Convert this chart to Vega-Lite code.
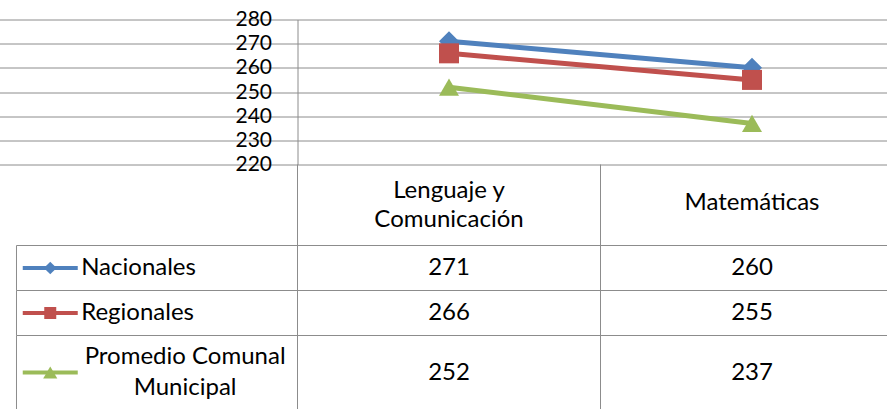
{
  "$schema": "https://vega.github.io/schema/vega-lite/v6.json",
  "autosize": {"type": "pad"},
  "padding": {"left": 14.5, "top": 8.5, "right": 0, "bottom": 0},
  "bounds": "flush",
  "spacing": 0,
  "config": {"view": {"stroke": null}, "font": "Lato", "text": {"font": "Lato", "fontSize": 24, "color": "#000000"}},
  "resolve": {"scale": {"x": "independent", "y": "independent", "color": "independent", "shape": "independent"}},
  "datasets": {
    "scores": [
      {"series": "Nacionales", "label": "Nacionales", "subject": "Lenguaje y Comunicación", "value": 271},
      {"series": "Nacionales", "label": "Nacionales", "subject": "Matemáticas", "value": 260},
      {"series": "Regionales", "label": "Regionales", "subject": "Lenguaje y Comunicación", "value": 266},
      {"series": "Regionales", "label": "Regionales", "subject": "Matemáticas", "value": 255},
      {"series": "Promedio Comunal Municipal", "label": "Promedio Comunal\nMunicipal", "subject": "Lenguaje y Comunicación", "value": 252},
      {"series": "Promedio Comunal Municipal", "label": "Promedio Comunal\nMunicipal", "subject": "Matemáticas", "value": 237}
    ],
    "subjects": [
      {"subject": "Lenguaje y Comunicación", "header": "Lenguaje y\nComunicación"},
      {"subject": "Matemáticas", "header": "Matemáticas"}
    ]
  },
  "vconcat": [
    {
      "width": 591, "height": 145,
      "data": {"name": "scores"},
      "encoding": {
        "x": {"field": "subject", "type": "nominal", "sort": null, "scale": {"type": "band", "domain": ["Serie", "Lenguaje y Comunicación", "Matemáticas"], "range": [-303, 606], "paddingInner": 0, "paddingOuter": 0}, "axis": null},
        "y": {"field": "value", "type": "quantitative", "scale": {"domain": [220, 280], "nice": false, "zero": false},
          "axis": {"values": [220, 230, 240, 250, 260, 270, 280], "title": null, "grid": true, "gridColor": "#8c8c8c", "gridWidth": 1, "ticks": false, "domain": true, "domainColor": "#8c8c8c", "domainWidth": 1, "labelFont": "Lato", "labelFontSize": 21, "labelColor": "#000000", "labelPadding": 26}},
        "color": {"field": "series", "type": "nominal", "scale": {"domain": ["Nacionales", "Regionales", "Promedio Comunal Municipal"], "range": ["#4F81BD", "#C0504D", "#9BBB59"]}, "legend": null}
      },
      "layer": [
        {"mark": {"type": "line", "strokeWidth": 5}},
        {"mark": {"type": "point", "filled": true, "opacity": 1, "size": 400},
          "encoding": {"shape": {"field": "series", "type": "nominal", "scale": {"domain": ["Nacionales", "Regionales", "Promedio Comunal Municipal"], "range": ["diamond", "square", "triangle-up"]}, "legend": null}}}
      ]
    },
    {
      "width": 591, "height": 81,
      "data": {"name": "subjects"},
      "layer": [
        {"mark": {"type": "rule", "color": "#8c8c8c", "strokeWidth": 1},
          "encoding": {"x": {"field": "subject", "type": "nominal", "bandPosition": 0, "scale": {"type": "band", "domain": ["Serie", "Lenguaje y Comunicación", "Matemáticas"], "range": [-303, 606], "paddingInner": 0, "paddingOuter": 0}, "axis": null}}},
        {"transform": [{"filter": "datum.subject == 'Lenguaje y Comunicación'"}], "mark": {"type": "text", "fontSize": 24, "lineHeight": 29, "lineBreak": "\n", "baseline": "middle", "dy": -14.5, "color": "#000000"},
          "encoding": {"x": {"field": "subject", "type": "nominal", "scale": {"type": "band", "domain": ["Serie", "Lenguaje y Comunicación", "Matemáticas"], "range": [-303, 606], "paddingInner": 0, "paddingOuter": 0}, "axis": null}, "text": {"field": "header"}}},
        {"transform": [{"filter": "datum.subject == 'Matemáticas'"}], "mark": {"type": "text", "fontSize": 24, "baseline": "middle", "dy": -2, "color": "#000000"},
          "encoding": {"x": {"field": "subject", "type": "nominal", "scale": {"type": "band", "domain": ["Serie", "Lenguaje y Comunicación", "Matemáticas"], "range": [-303, 606], "paddingInner": 0, "paddingOuter": 0}, "axis": null}, "text": {"field": "header"}}}
      ]
    },
    {
      "width": 591, "height": 45,
      "data": {"name": "scores"},
      "transform": [{"filter": "datum.series == 'Nacionales'"}],
      "layer": [
        {"mark": {"type": "rule", "color": "#8c8c8c", "strokeWidth": 1},
          "encoding": {"x": {"field": "subject", "type": "nominal", "bandPosition": 0, "scale": {"type": "band", "domain": ["Serie", "Lenguaje y Comunicación", "Matemáticas"], "range": [-303, 606], "paddingInner": 0, "paddingOuter": 0}, "axis": null}}},
        {"transform": [{"filter": "datum.subject == 'Matemáticas'"}], "mark": {"type": "rule", "color": "#8c8c8c", "strokeWidth": 1},
          "encoding": {"x": {"datum": "Serie", "type": "nominal", "bandPosition": 0.0726, "scale": {"type": "band", "domain": ["Serie", "Lenguaje y Comunicación", "Matemáticas"], "range": [-303, 606], "paddingInner": 0, "paddingOuter": 0}, "axis": null}}},
        {"transform": [{"filter": "datum.subject == 'Matemáticas'"}], "mark": {"type": "rule", "color": "#8c8c8c", "strokeWidth": 1},
          "encoding": {"x": {"datum": "Serie", "type": "nominal", "bandPosition": 0.0726, "scale": {"type": "band", "domain": ["Serie", "Lenguaje y Comunicación", "Matemáticas"], "range": [-303, 606], "paddingInner": 0, "paddingOuter": 0}, "axis": null},
            "x2": {"datum": "Matemáticas", "bandPosition": 0.95},
            "y": {"datum": 2, "type": "quantitative", "scale": {"domain": [1, 2], "zero": false, "nice": false}, "axis": null}}},
        {"mark": {"type": "text", "fontSize": 24, "color": "#000000"},
          "encoding": {"x": {"field": "subject", "type": "nominal", "scale": {"type": "band", "domain": ["Serie", "Lenguaje y Comunicación", "Matemáticas"], "range": [-303, 606], "paddingInner": 0, "paddingOuter": 0}, "axis": null}, "text": {"field": "value"}}},
        {"transform": [{"filter": "datum.subject == 'Matemáticas'"}], "mark": {"type": "point", "shape": "stroke", "size": 3025, "strokeWidth": 4, "opacity": 1, "filled": false},
          "encoding": {"x": {"datum": "Serie", "type": "nominal", "bandPosition": 0.184, "scale": {"type": "band", "domain": ["Serie", "Lenguaje y Comunicación", "Matemáticas"], "range": [-303, 606], "paddingInner": 0, "paddingOuter": 0}, "axis": null},
            "color": {"field": "series", "type": "nominal", "scale": {"domain": ["Nacionales", "Regionales", "Promedio Comunal Municipal"], "range": ["#4F81BD", "#C0504D", "#9BBB59"]}, "legend": null}}},
        {"transform": [{"filter": "datum.subject == 'Matemáticas'"}], "mark": {"type": "point", "filled": true, "opacity": 1, "size": 160},
          "encoding": {"x": {"datum": "Serie", "type": "nominal", "bandPosition": 0.184, "scale": {"type": "band", "domain": ["Serie", "Lenguaje y Comunicación", "Matemáticas"], "range": [-303, 606], "paddingInner": 0, "paddingOuter": 0}, "axis": null},
            "color": {"field": "series", "type": "nominal", "scale": {"domain": ["Nacionales", "Regionales", "Promedio Comunal Municipal"], "range": ["#4F81BD", "#C0504D", "#9BBB59"]}, "legend": null},
            "shape": {"field": "series", "type": "nominal", "scale": {"domain": ["Nacionales", "Regionales", "Promedio Comunal Municipal"], "range": ["diamond", "square", "triangle-up"]}, "legend": null}}},
        {"transform": [{"filter": "datum.subject == 'Matemáticas'"}], "mark": {"type": "text", "fontSize": 24, "align": "left", "color": "#000000"},
          "encoding": {"x": {"datum": "Serie", "type": "nominal", "bandPosition": 0.286, "scale": {"type": "band", "domain": ["Serie", "Lenguaje y Comunicación", "Matemáticas"], "range": [-303, 606], "paddingInner": 0, "paddingOuter": 0}, "axis": null}, "text": {"field": "label"}}}
      ]
    },
    {
      "width": 591, "height": 45,
      "data": {"name": "scores"},
      "transform": [{"filter": "datum.series == 'Regionales'"}],
      "layer": [
        {"mark": {"type": "rule", "color": "#8c8c8c", "strokeWidth": 1},
          "encoding": {"x": {"field": "subject", "type": "nominal", "bandPosition": 0, "scale": {"type": "band", "domain": ["Serie", "Lenguaje y Comunicación", "Matemáticas"], "range": [-303, 606], "paddingInner": 0, "paddingOuter": 0}, "axis": null}}},
        {"transform": [{"filter": "datum.subject == 'Matemáticas'"}], "mark": {"type": "rule", "color": "#8c8c8c", "strokeWidth": 1},
          "encoding": {"x": {"datum": "Serie", "type": "nominal", "bandPosition": 0.0726, "scale": {"type": "band", "domain": ["Serie", "Lenguaje y Comunicación", "Matemáticas"], "range": [-303, 606], "paddingInner": 0, "paddingOuter": 0}, "axis": null}}},
        {"transform": [{"filter": "datum.subject == 'Matemáticas'"}], "mark": {"type": "rule", "color": "#8c8c8c", "strokeWidth": 1},
          "encoding": {"x": {"datum": "Serie", "type": "nominal", "bandPosition": 0.0726, "scale": {"type": "band", "domain": ["Serie", "Lenguaje y Comunicación", "Matemáticas"], "range": [-303, 606], "paddingInner": 0, "paddingOuter": 0}, "axis": null},
            "x2": {"datum": "Matemáticas", "bandPosition": 0.95},
            "y": {"datum": 2, "type": "quantitative", "scale": {"domain": [1, 2], "zero": false, "nice": false}, "axis": null}}},
        {"mark": {"type": "text", "fontSize": 24, "color": "#000000"},
          "encoding": {"x": {"field": "subject", "type": "nominal", "scale": {"type": "band", "domain": ["Serie", "Lenguaje y Comunicación", "Matemáticas"], "range": [-303, 606], "paddingInner": 0, "paddingOuter": 0}, "axis": null}, "text": {"field": "value"}}},
        {"transform": [{"filter": "datum.subject == 'Matemáticas'"}], "mark": {"type": "point", "shape": "stroke", "size": 3025, "strokeWidth": 4, "opacity": 1, "filled": false},
          "encoding": {"x": {"datum": "Serie", "type": "nominal", "bandPosition": 0.184, "scale": {"type": "band", "domain": ["Serie", "Lenguaje y Comunicación", "Matemáticas"], "range": [-303, 606], "paddingInner": 0, "paddingOuter": 0}, "axis": null},
            "color": {"field": "series", "type": "nominal", "scale": {"domain": ["Nacionales", "Regionales", "Promedio Comunal Municipal"], "range": ["#4F81BD", "#C0504D", "#9BBB59"]}, "legend": null}}},
        {"transform": [{"filter": "datum.subject == 'Matemáticas'"}], "mark": {"type": "point", "filled": true, "opacity": 1, "size": 144},
          "encoding": {"x": {"datum": "Serie", "type": "nominal", "bandPosition": 0.184, "scale": {"type": "band", "domain": ["Serie", "Lenguaje y Comunicación", "Matemáticas"], "range": [-303, 606], "paddingInner": 0, "paddingOuter": 0}, "axis": null},
            "color": {"field": "series", "type": "nominal", "scale": {"domain": ["Nacionales", "Regionales", "Promedio Comunal Municipal"], "range": ["#4F81BD", "#C0504D", "#9BBB59"]}, "legend": null},
            "shape": {"field": "series", "type": "nominal", "scale": {"domain": ["Nacionales", "Regionales", "Promedio Comunal Municipal"], "range": ["diamond", "square", "triangle-up"]}, "legend": null}}},
        {"transform": [{"filter": "datum.subject == 'Matemáticas'"}], "mark": {"type": "text", "fontSize": 24, "align": "left", "color": "#000000"},
          "encoding": {"x": {"datum": "Serie", "type": "nominal", "bandPosition": 0.286, "scale": {"type": "band", "domain": ["Serie", "Lenguaje y Comunicación", "Matemáticas"], "range": [-303, 606], "paddingInner": 0, "paddingOuter": 0}, "axis": null}, "text": {"field": "label"}}}
      ]
    },
    {
      "width": 591, "height": 74,
      "data": {"name": "scores"},
      "transform": [{"filter": "datum.series == 'Promedio Comunal Municipal'"}],
      "layer": [
        {"mark": {"type": "rule", "color": "#8c8c8c", "strokeWidth": 1},
          "encoding": {"x": {"field": "subject", "type": "nominal", "bandPosition": 0, "scale": {"type": "band", "domain": ["Serie", "Lenguaje y Comunicación", "Matemáticas"], "range": [-303, 606], "paddingInner": 0, "paddingOuter": 0}, "axis": null}}},
        {"transform": [{"filter": "datum.subject == 'Matemáticas'"}], "mark": {"type": "rule", "color": "#8c8c8c", "strokeWidth": 1},
          "encoding": {"x": {"datum": "Serie", "type": "nominal", "bandPosition": 0.0726, "scale": {"type": "band", "domain": ["Serie", "Lenguaje y Comunicación", "Matemáticas"], "range": [-303, 606], "paddingInner": 0, "paddingOuter": 0}, "axis": null}}},
        {"transform": [{"filter": "datum.subject == 'Matemáticas'"}], "mark": {"type": "rule", "color": "#8c8c8c", "strokeWidth": 1},
          "encoding": {"x": {"datum": "Serie", "type": "nominal", "bandPosition": 0.0726, "scale": {"type": "band", "domain": ["Serie", "Lenguaje y Comunicación", "Matemáticas"], "range": [-303, 606], "paddingInner": 0, "paddingOuter": 0}, "axis": null},
            "x2": {"datum": "Matemáticas", "bandPosition": 0.95},
            "y": {"datum": 2, "type": "quantitative", "scale": {"domain": [1, 2], "zero": false, "nice": false}, "axis": null}}},
        {"mark": {"type": "text", "fontSize": 24, "color": "#000000"},
          "encoding": {"x": {"field": "subject", "type": "nominal", "scale": {"type": "band", "domain": ["Serie", "Lenguaje y Comunicación", "Matemáticas"], "range": [-303, 606], "paddingInner": 0, "paddingOuter": 0}, "axis": null}, "text": {"field": "value"}}},
        {"transform": [{"filter": "datum.subject == 'Matemáticas'"}], "mark": {"type": "point", "shape": "stroke", "size": 3025, "strokeWidth": 4, "opacity": 1, "filled": false, "dy": -11},
          "encoding": {"x": {"datum": "Serie", "type": "nominal", "bandPosition": 0.184, "scale": {"type": "band", "domain": ["Serie", "Lenguaje y Comunicación", "Matemáticas"], "range": [-303, 606], "paddingInner": 0, "paddingOuter": 0}, "axis": null},
            "color": {"field": "series", "type": "nominal", "scale": {"domain": ["Nacionales", "Regionales", "Promedio Comunal Municipal"], "range": ["#4F81BD", "#C0504D", "#9BBB59"]}, "legend": null}}},
        {"transform": [{"filter": "datum.subject == 'Matemáticas'"}], "mark": {"type": "point", "filled": true, "opacity": 1, "size": 200, "dy": -12},
          "encoding": {"x": {"datum": "Serie", "type": "nominal", "bandPosition": 0.184, "scale": {"type": "band", "domain": ["Serie", "Lenguaje y Comunicación", "Matemáticas"], "range": [-303, 606], "paddingInner": 0, "paddingOuter": 0}, "axis": null},
            "color": {"field": "series", "type": "nominal", "scale": {"domain": ["Nacionales", "Regionales", "Promedio Comunal Municipal"], "range": ["#4F81BD", "#C0504D", "#9BBB59"]}, "legend": null},
            "shape": {"field": "series", "type": "nominal", "scale": {"domain": ["Nacionales", "Regionales", "Promedio Comunal Municipal"], "range": ["diamond", "square", "triangle-up"]}, "legend": null}}},
        {"transform": [{"filter": "datum.subject == 'Matemáticas'"}], "mark": {"type": "text", "fontSize": 24, "align": "center", "lineBreak": "\n", "lineHeight": 31, "dy": -16, "color": "#000000"},
          "encoding": {"x": {"datum": "Serie", "type": "nominal", "bandPosition": 0.629, "scale": {"type": "band", "domain": ["Serie", "Lenguaje y Comunicación", "Matemáticas"], "range": [-303, 606], "paddingInner": 0, "paddingOuter": 0}, "axis": null}, "text": {"field": "label"}}}
      ]
    }
  ]
}
